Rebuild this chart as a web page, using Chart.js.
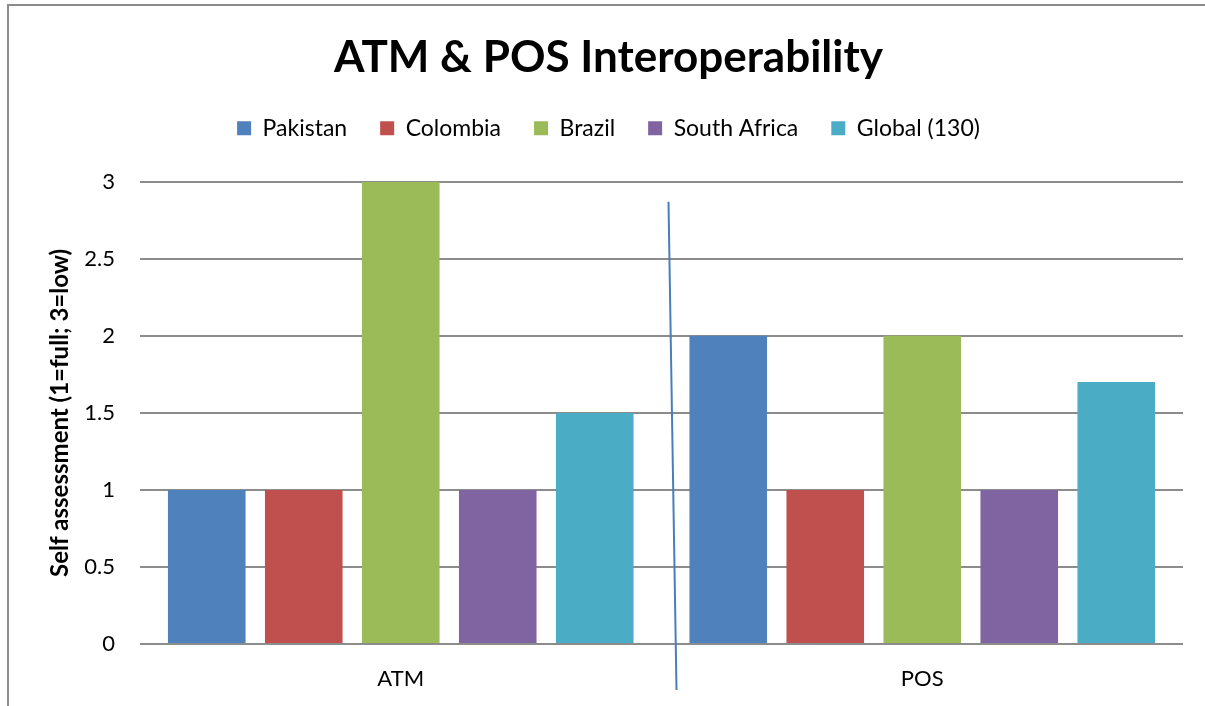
<!DOCTYPE html>
<html>
<head>
<meta charset="utf-8">
<script src="https://cdn.jsdelivr.net/npm/chart.js@4/dist/chart.umd.min.js"></script>
<style>
  html, body { margin: 0; padding: 0; background: #fff; overflow: hidden; }
  body { width: 1205px; height: 706px; position: relative; }
  #frame { position: absolute; left: 7px; top: 4px; width: 1400px; height: 900px;
           border: 2px solid #8c8c8c; box-sizing: border-box; }
  #wrap { position: absolute; left: 0; top: 0; width: 1205px; height: 706px; }
</style>
</head>
<body>
<div id="frame"></div>
<div id="wrap"><canvas id="c" width="1205" height="706"></canvas></div>
<script>
// Categories and series
const categories = ['ATM', 'POS'];
const pakistan    = [1, 2];
const colombia    = [1, 1];
const brazil      = [3, 2];
const southAfrica = [1, 1];
const global130   = [1.5, 1.7];
const yTicks = [0, 0.5, 1, 1.5, 2, 2.5, 3];

const FONT = 'Lato, "Open Sans", sans-serif';

// Extra room under the legend row
const legendSpacing = {
  id: 'legendSpacing',
  beforeInit(chart) {
    const lg = chart.legend;
    if (!lg) return;
    const fit = lg.fit;
    lg.fit = function () { fit.call(this); this.height += 32; };
  }
};

// Thin slanted rule separating the two groups
const dividerPlugin = {
  id: 'divider',
  afterDatasetsDraw(chart) {
    const x = chart.scales.x;
    const y = chart.scales.y;
    const mid = (x.getPixelForValue(0) + x.getPixelForValue(1)) / 2;
    const ctx = chart.ctx;
    ctx.save();
    ctx.strokeStyle = '#4a7ebb';
    ctx.lineWidth = 2;
    ctx.beginPath();
    ctx.moveTo(mid + 7, y.getPixelForValue(3) + 20);
    ctx.lineTo(mid + 15, y.getPixelForValue(0) + 46);
    ctx.stroke();
    ctx.restore();
  }
};

const ds = (label, data, color) => ({
  label, data, backgroundColor: color, borderColor: color, borderWidth: 0,
  categoryPercentage: 0.93, barPercentage: 0.8
});

new Chart(document.getElementById('c'), {
  type: 'bar',
  data: {
    labels: categories,
    datasets: [
      ds('Pakistan', pakistan, '#4F81BD'),
      ds('Colombia', colombia, '#C0504D'),
      ds('Brazil', brazil, '#9BBB59'),
      ds('South Africa', southAfrica, '#8064A2'),
      ds('Global (130)', global130, '#4BACC6')
    ]
  },
  options: {
    responsive: false,
    animation: false,
    layout: { padding: { top: 31, right: 22, left: 34, bottom: 14 } },
    plugins: {
      title: {
        display: true,
        text: 'ATM & POS Interoperability',
        color: '#000',
        font: { family: FONT, size: 44, weight: 'bold' },
        padding: { top: 0, bottom: 0 }
      },
      legend: {
        position: 'top',
        labels: {
          color: '#000',
          font: { family: FONT, size: 23 },
          boxWidth: 14, boxHeight: 14, padding: 33
        }
      },
      tooltip: { enabled: false }
    },
    scales: {
      x: {
        afterFit(scale) { scale.height = 48; },
        grid: { display: false, drawTicks: false },
        border: { display: false },
        ticks: { color: '#000', font: { family: FONT, size: 22 }, padding: 22 }
      },
      y: {
        min: 0, max: 3,
        afterBuildTicks(scale) { scale.ticks = yTicks.map(v => ({ value: v })); },
        afterFit(scale) { scale.width = 106; },
        grid: { color: '#8c8c8c', lineWidth: 2, drawTicks: false },
        border: { display: false },
        ticks: { color: '#000', font: { family: FONT, size: 22 }, padding: 25,
                 callback: v => String(v) },
        title: {
          display: true,
          text: 'Self assessment (1=full; 3=low)',
          color: '#000',
          font: { family: FONT, size: 24, weight: 'bold' },
          padding: { top: 12, bottom: 0 }
        }
      }
    }
  },
  plugins: [legendSpacing, dividerPlugin]
});
</script>
</body>
</html>
